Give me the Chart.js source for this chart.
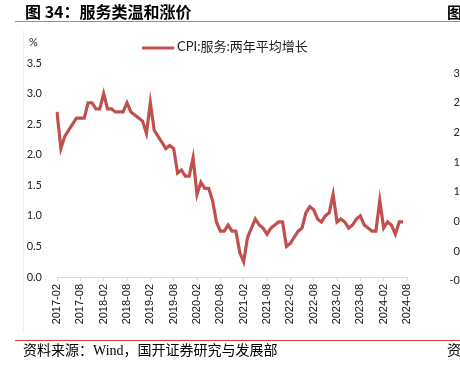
<!DOCTYPE html>
<html>
<head>
<meta charset="utf-8">
<script src="https://cdn.jsdelivr.net/npm/chart.js@4.4.1/dist/chart.umd.min.js"></script>
<style>
html, body { margin: 0; padding: 0; background: #fff; }
#wrap { position: relative; width: 460px; height: 365px; }
</style>
</head>
<body>
<div id="wrap"><canvas id="chart" width="460" height="365"></canvas></div>
<script>
// monthly categories, 2017-02 .. 2024-08
var months = [
    '2017-02', '2017-03', '2017-04', '2017-05', '2017-06', '2017-07', '2017-08', '2017-09', '2017-10', '2017-11', '2017-12',
    '2018-01', '2018-02', '2018-03', '2018-04', '2018-05', '2018-06', '2018-07', '2018-08', '2018-09', '2018-10', '2018-11', '2018-12',
    '2019-01', '2019-02', '2019-03', '2019-04', '2019-05', '2019-06', '2019-07', '2019-08', '2019-09', '2019-10', '2019-11', '2019-12',
    '2020-01', '2020-02', '2020-03', '2020-04', '2020-05', '2020-06', '2020-07', '2020-08', '2020-09', '2020-10', '2020-11', '2020-12',
    '2021-01', '2021-02', '2021-03', '2021-04', '2021-05', '2021-06', '2021-07', '2021-08', '2021-09', '2021-10', '2021-11', '2021-12',
    '2022-01', '2022-02', '2022-03', '2022-04', '2022-05', '2022-06', '2022-07', '2022-08', '2022-09', '2022-10', '2022-11', '2022-12',
    '2023-01', '2023-02', '2023-03', '2023-04', '2023-05', '2023-06', '2023-07', '2023-08', '2023-09', '2023-10', '2023-11', '2023-12',
    '2024-01', '2024-02', '2024-03', '2024-04', '2024-05', '2024-06', '2024-07', '2024-08'
];

// CPI:服务:两年平均增长 (%)
var serviceValues = [
    2.70, 2.10, 2.30, 2.40, 2.50, 2.60, 2.60, 2.60, 2.85, 2.85, 2.75,
    2.75, 3.00, 2.75, 2.75, 2.70, 2.70, 2.70, 2.85, 2.70, 2.65, 2.60, 2.55,
    2.35, 2.85, 2.40, 2.30, 2.20, 2.10, 2.15, 2.10, 1.70, 1.75, 1.65, 1.65,
    1.95, 1.35, 1.55, 1.45, 1.45, 1.25, 0.90, 0.75, 0.75, 0.85, 0.75, 0.75,
    0.40, 0.25, 0.65, 0.80, 0.95, 0.85, 0.80, 0.70, 0.80, 0.85, 0.90, 0.90,
    0.50, 0.55, 0.65, 0.75, 0.80, 1.05, 1.15, 1.10, 0.95, 0.90, 1.00, 1.05,
    1.35, 0.90, 0.95, 0.90, 0.80, 0.85, 0.95, 1.00, 0.85, 0.80, 0.75, 0.75,
    1.25, 0.80, 0.90, 0.85, 0.70, 0.90, 0.90
];

var seriesLabel = 'CPI:服务:两年平均增长';
var yMin = 0;
var yMax = 3.5;
var yStep = 0.5;

// labels of the neighbouring chart, cut off at the right edge
var sideLabels = ['3', '2', '2', '1', '1', '0', '0', '-0'];

var titleText = '图 34：服务类温和涨价';
var sourceText = '资料来源：Wind，国开证券研究与发展部';

var lineColor = '#c0504d';

var decorations = {
    id: 'decorations',
    afterDraw: function(chart) {
        var ctx = chart.ctx;
        ctx.save();
        ctx.textBaseline = 'middle';

        // title
        ctx.fillStyle = '#000';
        ctx.font = 'bold 16px "Noto Sans CJK SC"';
        ctx.textAlign = 'left';
        ctx.fillText(titleText, 25, 12);
        ctx.font = 'bold 15px "Noto Sans CJK SC"';
        ctx.fillText('图', 447, 12);

        ctx.fillStyle = '#e07070';
        ctx.fillRect(15, 21, 445, 1);

        // faint box edge
        ctx.fillStyle = '#f0f0f0';
        ctx.fillRect(23, 30, 1, 303);

        // unit
        ctx.fillStyle = '#222';
        ctx.font = '11px Lato';
        ctx.fillText('%', 29, 42);

        // legend
        ctx.strokeStyle = lineColor;
        ctx.lineWidth = 3;
        ctx.beginPath();
        ctx.moveTo(142, 48);
        ctx.lineTo(174, 48);
        ctx.stroke();
        ctx.fillStyle = '#222';
        ctx.font = '13px Lato, "Noto Sans CJK SC"';
        ctx.fillText(seriesLabel, 177, 47);

        // neighbouring chart labels
        ctx.font = '11px Lato';
        ctx.textAlign = 'right';
        ctx.fillStyle = '#222';
        var y = 73;
        sideLabels.forEach(function(t) {
            ctx.fillText(t, 460, y);
            y += 29.7;
        });

        // source
        ctx.fillStyle = '#e03a3a';
        ctx.fillRect(15, 340, 445, 1);
        ctx.fillStyle = '#000';
        ctx.textAlign = 'left';
        ctx.font = '14px "Liberation Serif", "Noto Sans CJK SC"';
        ctx.fillText(sourceText, 23, 351);
        ctx.fillText('资', 447, 351);

        ctx.restore();
    }
};

var ctx = document.getElementById('chart').getContext('2d');
var chart = new Chart(ctx, {
    type: 'line',
    data: {
        labels: months,
        datasets: [{
            label: seriesLabel,
            data: serviceValues,
            borderColor: lineColor,
            backgroundColor: lineColor,
            borderWidth: 3.2,
            pointRadius: 0,
            tension: 0
        }]
    },
    options: {
        responsive: false,
        animation: false,
        layout: {
            padding: { left: 0, right: 53, top: 63, bottom: 28 }
        },
        plugins: {
            legend: { display: false },
            tooltip: { enabled: false }
        },
        scales: {
            x: {
                type: 'category',
                offset: false,
                afterFit: function(scale) { scale.height = 60; },
                grid: {
                    drawOnChartArea: false,
                    color: '#d9d9d9',
                    tickLength: 4
                },
                border: { color: '#d9d9d9' },
                ticks: {
                    autoSkip: false,
                    maxRotation: 90,
                    minRotation: 90,
                    padding: 3,
                    color: '#111',
                    font: { family: '"Liberation Sans"', size: 11 },
                    callback: function(v, i) {
                        return i % 6 === 0 ? months[i] : null;
                    }
                }
            },
            y: {
                min: yMin,
                max: yMax,
                afterFit: function(scale) { scale.width = 57; },
                grid: { display: false, drawTicks: false },
                border: { display: false },
                ticks: {
                    stepSize: yStep,
                    padding: 15,
                    color: '#222',
                    font: { family: 'Lato', size: 11 },
                    callback: function(v) { return v.toFixed(1); }
                }
            }
        }
    },
    plugins: [decorations]
});
</script>
</body>
</html>
